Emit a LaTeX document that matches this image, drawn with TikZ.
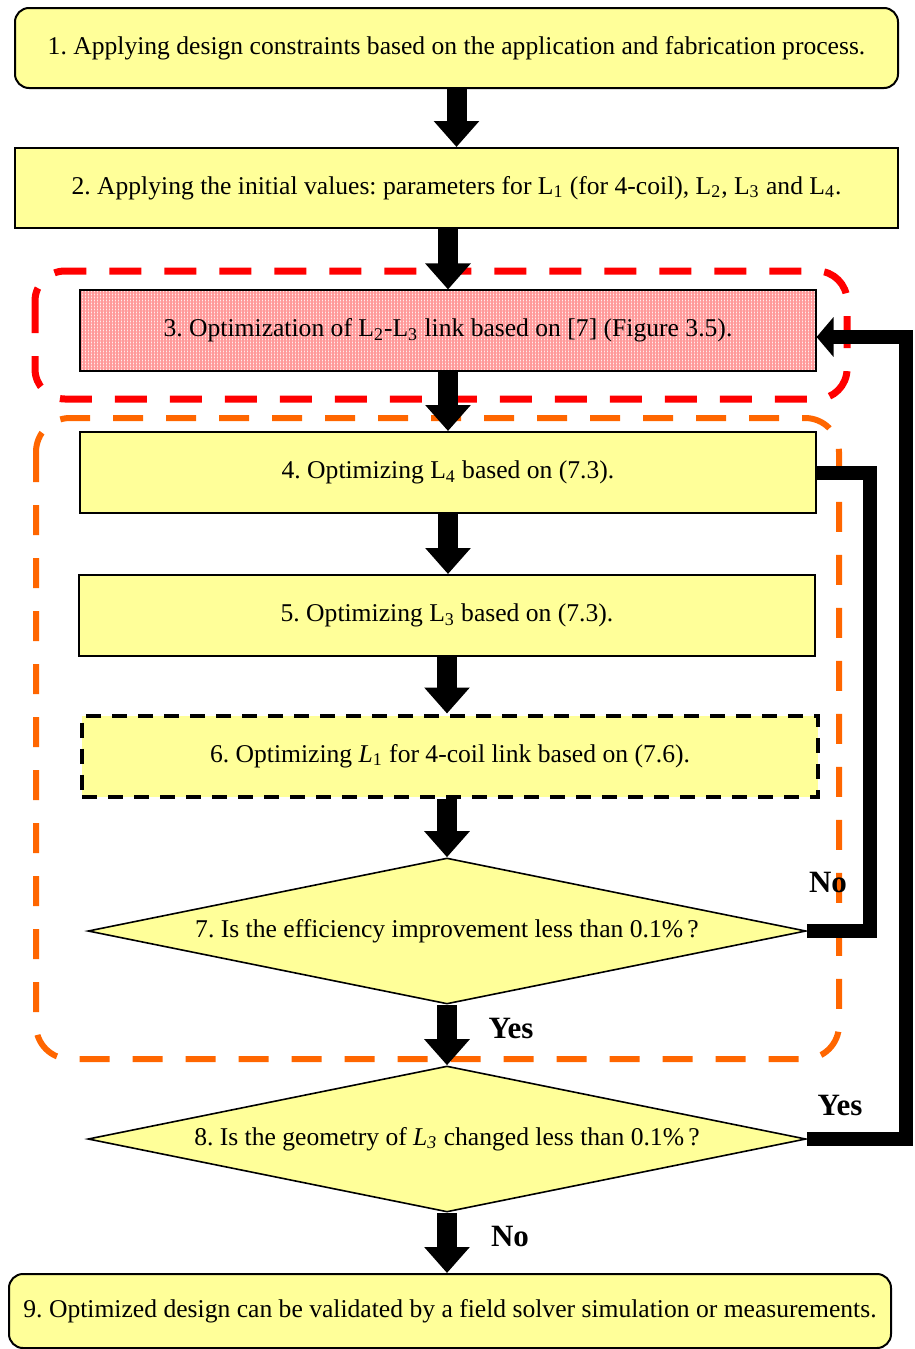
\documentclass[tikz,border=0pt]{standalone}
\usepackage{fontspec}
\setmainfont{Liberation Serif}
\usetikzlibrary{shapes.geometric,arrows.meta,patterns.meta}

\definecolor{boxyellow}{HTML}{FFFF99}
\definecolor{loopred}{HTML}{FF0000}
\definecolor{looporange}{HTML}{FF6600}
\definecolor{gridpink}{HTML}{FFEDED}
\definecolor{gridline}{HTML}{FF9A9A}

\tikzset{
  stepbox/.style={draw=black, line width=1pt, fill=boxyellow, inner sep=0pt,
    minimum width=368pt, minimum height=40.5pt, font=\fontsize{12.8}{14}\selectfont},
  widebox/.style={stepbox, minimum width=441.5pt, minimum height=40pt},
  endbox/.style={widebox, rounded corners=7pt},
  question/.style={diamond, draw=black, line width=0.8pt, fill=boxyellow, inner sep=0pt,
    aspect=4.9, minimum width=359pt, minimum height=73pt, font=\fontsize{12.8}{14}\selectfont},
  flow/.style={line width=10pt, -{Triangle[width=22pt,length=13pt]}},
  back/.style={line width=7pt},
  answer/.style={font=\fontsize{15.5}{17}\selectfont\bfseries},
}

\begin{document}
\frenchspacing
\begin{tikzpicture}[x=0.5pt,y=-0.5pt]
\useasboundingbox (0,0) rectangle (915,1349);

% groups
\draw[loopred, line width=3.5pt, dash pattern=on 16pt off 11.5pt, rounded corners=15pt]
  (35,271) rectangle (847,399);
\draw[looporange, line width=3pt, dash pattern=on 15pt off 11.5pt, rounded corners=17pt]
  (36,418) rectangle (839,1059);

% steps
\node[endbox] (b1) at (456.5,48) {1. Applying design constraints based on the application and fabrication process.};
\node[widebox] (b2) at (456.5,188) {2. Applying the initial values: parameters for L\textsubscript{1} (for 4-coil), L\textsubscript{2}, L\textsubscript{3} and L\textsubscript{4}.};
\node[stepbox, preaction={fill=gridpink},
  pattern={Hatch[angle=0,distance=1.5pt,line width=0.55pt]}, pattern color=gridline]
  (b3) at (448,330.5) {3. Optimization of L\textsubscript{2}-L\textsubscript{3} link based on [7] (Figure 3.5).};
\node[stepbox] (b4) at (448,472.5) {4. Optimizing L\textsubscript{4} based on (7.3).};
\node[stepbox] (b5) at (447,615.5) {5. Optimizing L\textsubscript{3} based on (7.3).};
\node[stepbox, line width=2pt, dash pattern=on 7.5pt off 5.5pt] (b6) at (450,756) {6. Optimizing \textit{L}\textsubscript{1} for 4-coil link based on (7.6).};
\node[question] (d7) at (447,931) {7. Is the efficiency improvement less than 0.1\%\,?};
\node[question] (d8) at (447,1139) {8. Is the geometry of \textit{L\textsubscript{3}} changed less than 0.1\%\,?};
\node[endbox, minimum width=441pt, minimum height=37pt] (b9) at (450,1311) {9. Optimized design can be validated by a field solver simulation or measurements.};

% main flow
\draw[flow] (b1.south) -- (b2.north);
\draw[flow] (b2.south -| b3.north) -- (b3.north);
\draw[flow] (b3) -- (b4);
\draw[flow] (b4.south) -- (b4.south |- b5.north);
\draw[flow] (b5.south) -- (b5.south |- b6.north);
\draw[flow] (b6.south -| d7.north) -- (d7.north);
\draw[flow] (d7) -- (d8);
\draw[flow] (d8.south) -- (d8.south |- b9.north);

% loops back
\coordinate (noturn) at (870,472.5);
\coordinate (yesturn) at (906,337);
\draw[back] (d7.east) -| (noturn) -- (b4.east);
\draw[back, -{Triangle[width=19.5pt,length=8.5pt]}] (d8.east) -| (yesturn) -- (b3.east |- yesturn);

\node[answer] (no7) at (828,882) {No};
\node[answer] (yes7) at (511,1028) {Yes};
\node[answer] (yes8) at (840,1105) {Yes};
\node[answer] (no8) at (510,1236) {No};
\end{tikzpicture}
\end{document}
